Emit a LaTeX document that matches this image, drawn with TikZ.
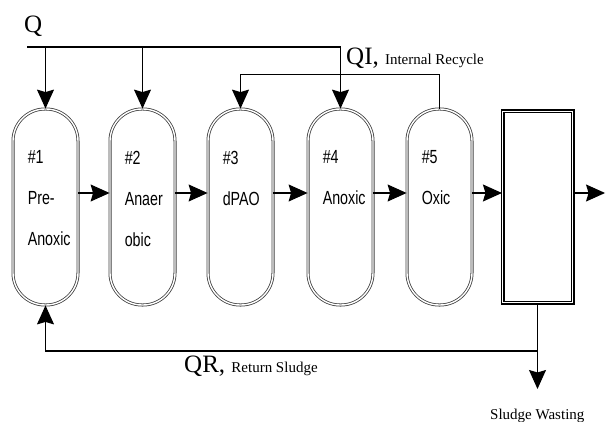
\documentclass[tikz,border=0pt]{standalone}
\usepackage{fontspec}
\usepackage{tikz}
\usetikzlibrary{arrows.meta}
\setmainfont{Liberation Serif}
\newfontfamily\narrowsans[FakeStretch=0.75]{Liberation Sans}
\newcommand\smalltxt{\fontsize{15}{15}\selectfont}

\begin{document}
\begin{tikzpicture}[x=1pt,y=-1pt,
    tank/.style={draw=black!75, double=white, double distance=1.4pt, line width=0.8pt,
      rectangle, rounded corners=32pt, minimum width=65pt, minimum height=196pt, inner sep=0pt},
    clarbox/.style={draw=black, double=white, double distance=1.8pt, line width=1.1pt,
      rectangle, minimum width=70pt, minimum height=191pt, inner sep=0pt},
    flow/.style={line width=1.1pt, -{Stealth[length=19pt,width=17pt,inset=2.5pt]}},
    pipe/.style={line width=1.1pt},
    tanklab/.style={anchor=north west, align=left, inner sep=0pt,
      font=\narrowsans\fontsize{19}{41}\selectfont},
    big/.style={inner sep=0pt, font=\fontsize{25}{25}\selectfont},
    smalllab/.style={inner sep=0pt, font=\smalltxt}]
\useasboundingbox (0,0) rectangle (608,422);

% reactors
\foreach \i/\x/\txt in {1/45.5/{\#1\\Pre-\\Anoxic}, 2/142.5/{\#2\\Anaer\\obic},
    3/240.5/{\#3\\dPAO}, 4/340.5/{\#4\\Anoxic}, 5/439.5/{\#5\\Oxic}} {
  \node[tank] (tank\i) at (\x,207) {};
  \node[tanklab] (lab\i) at ([xshift=15pt,yshift=-42pt]tank\i.north west) {\txt};
}
\node[clarbox] (clar) at (537.5,207) {};

% main flow
\foreach \a/\b in {tank1/tank2, tank2/tank3, tank3/tank4, tank4/tank5, tank5/clar}
  \draw[flow] ([yshift=14pt]\a.east) -- ([yshift=14pt]\b.west);
\coordinate (out) at ([xshift=32pt,yshift=14pt]clar.east);
\draw[flow] ([yshift=14pt]clar.east) -- (out);

% influent Q
\node[big, anchor=base west] (qlab) at (24,33) {Q};
\coordinate (qin) at (27,47);
\draw[pipe] (qin) -- (tank4.north |- qin);
\foreach \t in {tank1, tank2, tank4}
  \draw[flow] (\t.north |- qin) -- (\t.north);

% internal recycle
\node[big, anchor=base west] (qilab) at (346,65) {QI,\ {\smalltxt Internal Recycle}};
\draw[flow] (tank5.north) -- ++(0,-34) -| (tank3.north);

% return sludge and wasting
\coordinate (ret) at (clar.south |- 0,351);
\coordinate (waste) at (clar.south |- 0,389);
\draw[pipe] (clar.south) -- (ret);
\draw[flow] (ret) -| (tank1.south);
\draw[flow] (ret) -- (waste);
\node[big, anchor=base west] (qrlab) at (184,372) {QR,\ {\smalltxt Return Sludge}};
\node[smalllab, anchor=base west] (wlab) at (490,419) {Sludge Wasting};

\end{tikzpicture}
\end{document}
